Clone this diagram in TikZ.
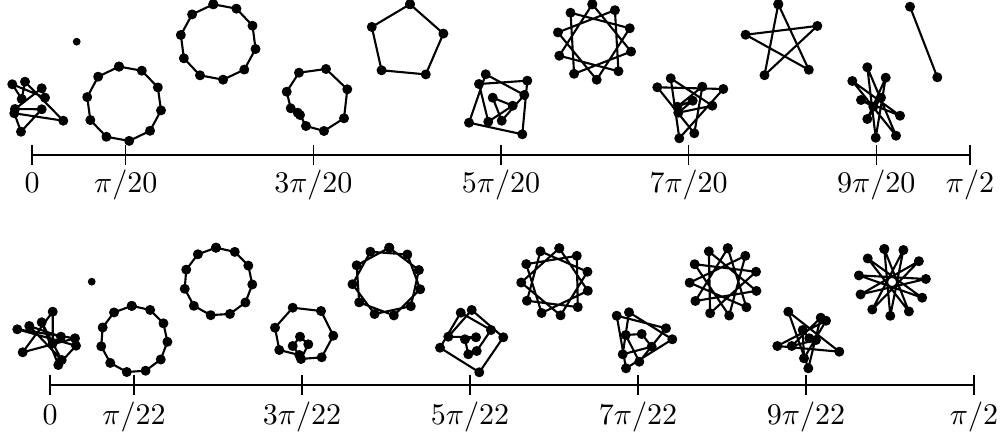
\documentclass[tikz,border=0pt]{standalone}
\newcommand\regorbit[6]{% cx cy R a0 N s
  \draw[orb] plot[samples at={0,...,#5}, variable=\m] ({#1+#3*cos(#4+(360/#5)*#6*\m)},{#2-#3*sin(#4+(360/#5)*#6*\m)});}
\newcommand\freeorbit[1]{\draw[orb] plot coordinates {#1} -- cycle;}
\begin{document}
\begin{tikzpicture}[x=0.33333pt,y=-0.33333pt,
  edge/.style={line width=0.7pt, line join=round},
  orb/.style={edge, mark=*, mark size=1.3pt, mark options={solid}},
  axisline/.style={line width=0.45pt},
  lbl/.style={anchor=base, inner sep=0pt, font=\fontsize{10}{12}\selectfont}]
\useasboundingbox (0,0) rectangle (1005,448);

% ---------- top row (pi/20) ----------
\freeorbit{(12.3,84.3) (21.7,99) (25,81.7) (63.3,120.7) (14.3,113.3) (21,131.7) (41.7,109.3) (15,109) (41.7,88.3) (45,97.7)}
\fill (76.7,41.7) circle (1.3pt);
\regorbit{124.1}{103.75}{37.5}{97.8}{10}{1}
\regorbit{218.2}{42}{38}{97.4}{10}{1}
\freeorbit{(299,72.7) (326,69) (347.3,89.3) (344,118.3) (324,131) (306,126) (300,115) (297.7,112.7) (290.7,108.3) (286.7,91.7)}
\regorbit{406.5}{41.9}{37.8}{84.7}{5}{1}
\freeorbit{(527.3,80.7) (522.3,134.3) (469,122.7) (485.7,74.3) (524.3,95) (501.7,120.7) (492.7,97.7) (512.7,105.7) (488.3,121.7) (479,84)}
\regorbit{594.5}{42}{37.8}{93.3}{10}{3}
\freeorbit{(670.7,78.3) (679.3,138.3) (723.3,89) (657.3,87.3) (694.3,133.3) (702.3,86.7) (677.3,106.7) (692.7,100.7) (678.3,112.7) (712.3,105.7)}
\regorbit{782.9}{42}{38}{97}{5}{2}
\freeorbit{(867.3,67.3) (896,135.7) (852.3,81) (900,115.7) (861,100) (873.3,106.7) (881,97.7) (867.3,119) (885.7,77.7) (875.7,137.7)}
\draw[orb] plot coordinates {(910,6.7) (937.3,77.3)};

\draw[axisline] (32,155) -- (970,155);
\foreach \x/\t in {32/{0},125.8/{\pi/20},313.4/{3\pi/20},501/{5\pi/20},688.6/{7\pi/20},876.2/{9\pi/20},970/{\pi/2}}{
  \draw[axisline] (\x,145) -- (\x,165);
  \node[lbl] at (\x,193) {$\t$};}

% ---------- bottom row (pi/22) ----------
\freeorbit{(52.7,311.7) (22.7,352.3) (75,338.3) (17.3,329.3) (76,345.7) (58.3,365) (41.7,322.3) (61.7,360) (29.3,326) (61,336.7) (52.7,343.3)}
\fill (91.7,281.7) circle (1.3pt);
\regorbit{134}{339.3}{33.5}{93.9}{11}{1}
\regorbit{218.2}{281.8}{34.2}{93.7}{11}{1}
\freeorbit{(292.7,307.7) (321,311) (333.3,335.7) (321.7,357.3) (301,359) (308.3,344.3) (300,336.7) (292.7,346) (299.3,355) (279.3,350) (275,327.7)}
\regorbit{386.7}{281.9}{34.3}{85.7}{11}{2}
\freeorbit{(471.7,310) (503.3,337.3) (479.3,372.3) (440,347.7) (460.7,312.7) (491,330) (476.7,351) (468.3,354.3) (465,339.3) (476,337.3) (448.3,336.7)}
\regorbit{555.1}{281.9}{33.9}{82.9}{11}{3}
\freeorbit{(625.7,335) (639.3,361.7) (666,328.3) (616.7,315.7) (626,368.3) (672.3,339.3) (629,312.3) (622.7,354.3) (651.7,346.7) (641.7,334)}
\regorbit{723.6}{282}{34}{83}{11}{4}
\freeorbit{(791.7,346) (820.7,317.7) (808.3,368.3) (788.3,311.7) (839.3,351.7) (777.3,346) (826,320.7) (804,358.3) (802.7,330) (809.3,338.3) (816,340)}
\regorbit{892.1}{282}{33.9}{103.3}{11}{5}

\draw[axisline] (50,385) -- (974,385);
\foreach \x/\t in {50/{0},134/{\pi/22},302/{3\pi/22},470/{5\pi/22},638/{7\pi/22},806/{9\pi/22},974/{\pi/2}}{
  \draw[axisline] (\x,375) -- (\x,395);
  \node[lbl] at (\x,424) {$\t$};}
\end{tikzpicture}
\end{document}
